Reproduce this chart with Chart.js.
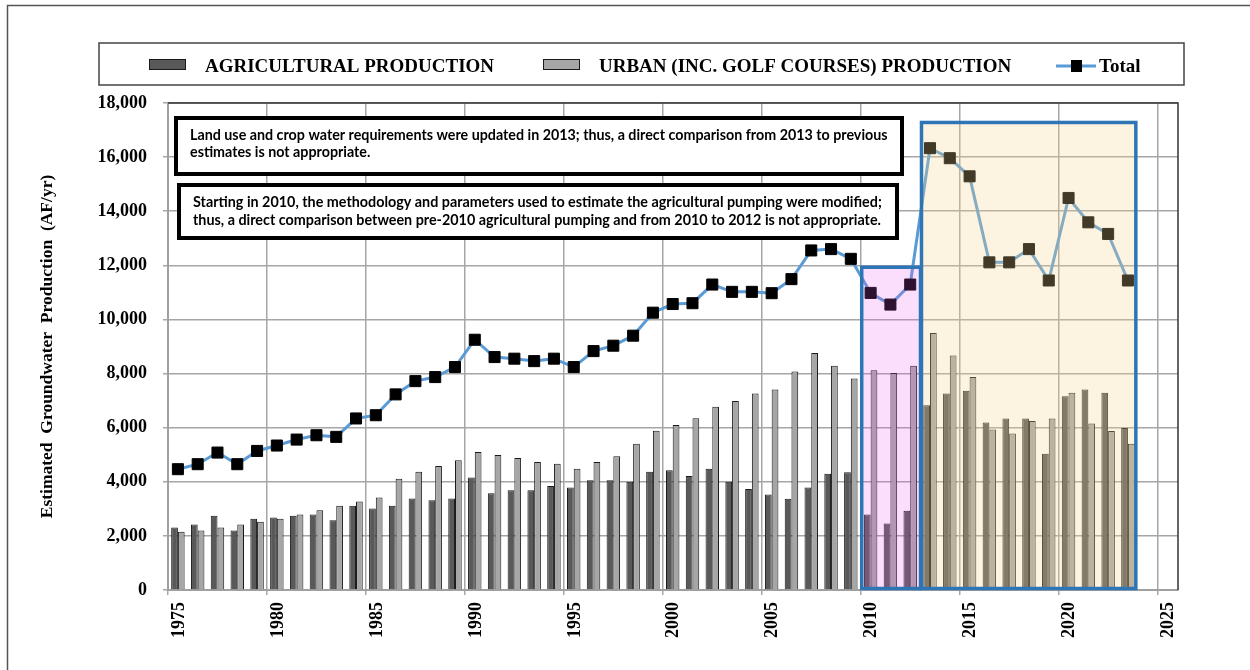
<!DOCTYPE html>
<html>
<head>
<meta charset="utf-8">
<script src="https://cdn.jsdelivr.net/npm/chart.js"></script>
<style>
	html, body { margin: 0; padding: 0; background: #fff; }
	#wrap { width: 1250px; height: 670px; }
</style>
</head>
<body>
<div id="wrap"><canvas id="myChart" width="1250" height="670"></canvas></div>
<script>
//setup
const years = [
	1975, 1976, 1977, 1978, 1979, 1980, 1981, 1982, 1983, 1984,
	1985, 1986, 1987, 1988, 1989, 1990, 1991, 1992, 1993, 1994,
	1995, 1996, 1997, 1998, 1999, 2000, 2001, 2002, 2003, 2004,
	2005, 2006, 2007, 2008, 2009, 2010, 2011, 2012, 2013, 2014,
	2015, 2016, 2017, 2018, 2019, 2020, 2021, 2022, 2023,
];
const agricultural = [
	2310, 2420, 2740, 2200, 2630, 2680, 2740, 2790, 2580, 3110,
	3010, 3110, 3380, 3320, 3380, 4160, 3580, 3690, 3690, 3840,
	3790, 4060, 4060, 4000, 4370, 4430, 4210, 4480, 4000, 3730,
	3530, 3370, 3790, 4300, 4350, 2790, 2460, 2930, 6830, 7260,
	7360, 6190, 6340, 6340, 5040, 7160, 7410, 7290, 5990,
];
const urban = [
	2150, 2200, 2310, 2420, 2520, 2630, 2790, 2950, 3110, 3270,
	3420, 4110, 4370, 4580, 4800, 5100, 4990, 4880, 4730, 4670,
	4480, 4730, 4940, 5410, 5890, 6100, 6350, 6770, 6990, 7260,
	7410, 8080, 8760, 8290, 7820, 8120, 8020, 8290, 9500, 8670,
	7870, 5930, 5780, 6250, 6340, 7290, 6150, 5880, 5410,
];
const total = [
	4465, 4650, 5080, 4650, 5140, 5340, 5560, 5720, 5660, 6340,
	6460, 7230, 7720, 7870, 8240, 9250, 8610, 8550, 8460, 8550,
	8240, 8830, 9030, 9400, 10250, 10570, 10600, 11290, 11020, 11020,
	10970, 11490, 12550, 12600, 12240, 10980, 10550, 11290, 16330, 15960,
	15290, 12110, 12110, 12600, 11440, 14490, 13590, 13160, 11440,
];
const xTickLabels = [1975, 1980, 1985, 1990, 1995, 2000, 2005, 2010, 2015, 2020, 2025];
const yTickLabels = [0, 2000, 4000, 6000, 8000, 10000, 12000, 14000, 16000, 18000];

const seriesNames = [
	"AGRICULTURAL PRODUCTION",
	"URBAN (INC. GOLF COURSES) PRODUCTION",
	"Total",
];
const notes = [
	[
		"Land use and crop water requirements were updated in 2013; thus, a direct comparison from 2013 to previous",
		"estimates is not appropriate.",
	],
	[
		"Starting in 2010, the methodology and parameters used to estimate the agricultural pumping were modified;",
		"thus, a direct comparison between pre-2010 agricultural pumping and from 2010 to 2012 is not appropriate.",
	],
];

//highlighted periods (data units)
const periods = [
	{ from: 2010.05, to: 2013.02, top: 11930, fill: "rgba(235, 90, 235, 0.2)" },
	{ from: 2013.07, to: 2023.9, top: 17280, fill: "rgba(245, 215, 140, 0.27)" },
];

const serif = "'Liberation Serif', 'Times New Roman', serif";
const midYear = (arr) => arr.map((v, i) => ({ x: years[i] + 0.5, y: v }));

const data = {
	datasets: [
		{
			type: "line",
			label: seriesNames[2],
			data: midYear(total),
			borderColor: "#5b9bd5",
			borderWidth: 3,
			pointStyle: "rect",
			pointRadius: 7.8,
			pointBackgroundColor: "#000",
			pointBorderColor: "#000",
			pointBorderWidth: 1,
			tension: 0,
			order: 0,
		},
		{
			type: "bar",
			label: seriesNames[0],
			data: midYear(agricultural),
			backgroundColor: "#595959",
			borderColor: "#1a1a1a",
			borderWidth: 1,
			categoryPercentage: 0.68,
			barPercentage: 1,
			order: 1,
		},
		{
			type: "bar",
			label: seriesNames[1],
			data: midYear(urban),
			backgroundColor: "#a6a6a6",
			borderColor: "#1a1a1a",
			borderWidth: 1,
			categoryPercentage: 0.68,
			barPercentage: 1,
			order: 1,
		},
	],
};

//white page + outer frame
const page = {
	id: "page",
	beforeDraw(chart) {
		const { ctx, width, height } = chart;
		ctx.save();
		ctx.fillStyle = "#fff";
		ctx.fillRect(0, 0, width, height);
		ctx.strokeStyle = "#555";
		ctx.lineWidth = 1.5;
		ctx.beginPath();
		ctx.moveTo(7.5, height);
		ctx.lineTo(7.5, 5.5);
		ctx.lineTo(width, 5.5);
		ctx.stroke();
		ctx.restore();
	},
};

//shaded periods + plot frame
const periodBoxes = {
	id: "periodBoxes",
	afterDatasetsDraw(chart) {
		const {
			ctx,
			chartArea: { top, right, bottom, left },
			scales: { x, y },
		} = chart;
		ctx.save();
		periods.forEach((p) => {
			const x0 = x.getPixelForValue(p.from);
			const x1 = x.getPixelForValue(p.to);
			const y0 = y.getPixelForValue(p.top);
			const y1 = y.getPixelForValue(0) - 1.5;
			ctx.fillStyle = p.fill;
			ctx.fillRect(x0, y0, x1 - x0, y1 - y0);
			ctx.strokeStyle = "#2e75b6";
			ctx.lineWidth = 3.5;
			ctx.strokeRect(x0, y0, x1 - x0, y1 - y0);
		});
		//dark top / right border of the plot
		ctx.strokeStyle = "#333";
		ctx.lineWidth = 1.5;
		ctx.beginPath();
		ctx.moveTo(left, top);
		ctx.lineTo(right, top);
		ctx.lineTo(right, bottom);
		ctx.stroke();
		ctx.restore();
	},
};

//note boxes + legend
function fitFont(ctx, text, width, weight, family) {
	ctx.font = weight + " 20px " + family;
	const size = (20 * width) / ctx.measureText(text).width;
	return weight + " " + size.toFixed(2) + "px " + family;
}

const overlay = {
	id: "overlay",
	afterDraw(chart) {
		const { ctx } = chart;
		ctx.save();

		//note boxes
		const boxes = [
			{ l: 176, t: 118, r: 902, b: 174, tx: 190, lines: [140, 157], fitW: 698 },
			{ l: 179, t: 185, r: 897, b: 238, tx: 193, lines: [207, 225], fitW: 689 },
		];
		boxes.forEach((b, i) => {
			ctx.fillStyle = "#fff";
			ctx.fillRect(b.l, b.t, b.r - b.l, b.b - b.t);
			ctx.strokeStyle = "#000";
			ctx.lineWidth = 4;
			ctx.strokeRect(b.l, b.t, b.r - b.l, b.b - b.t);
			ctx.font = fitFont(ctx, notes[i][0], b.fitW, "bold", "Lato, 'Liberation Sans', sans-serif");
			ctx.fillStyle = "#000";
			ctx.textAlign = "left";
			ctx.textBaseline = "alphabetic";
			notes[i].forEach((line, j) => ctx.fillText(line, b.tx, b.lines[j]));
		});

		//legend
		ctx.fillStyle = "#fff";
		ctx.fillRect(99, 43, 1085, 42);
		ctx.strokeStyle = "#444";
		ctx.lineWidth = 1.5;
		ctx.strokeRect(99, 43, 1085, 42);

		ctx.lineWidth = 1;
		ctx.strokeStyle = "#1a1a1a";
		ctx.fillStyle = data.datasets[1].backgroundColor;
		ctx.fillRect(149, 59, 36, 10);
		ctx.strokeRect(149.5, 59.5, 36, 10);
		ctx.fillStyle = data.datasets[2].backgroundColor;
		ctx.fillRect(543, 59, 36, 10);
		ctx.strokeRect(543.5, 59.5, 36, 10);

		ctx.strokeStyle = data.datasets[0].borderColor;
		ctx.lineWidth = 3;
		ctx.beginPath();
		ctx.moveTo(1056, 66);
		ctx.lineTo(1096, 66);
		ctx.stroke();
		ctx.fillStyle = "#000";
		ctx.fillRect(1071, 60, 11, 12);

		ctx.font = "bold 19px " + serif;
		ctx.fillStyle = "#000";
		ctx.textBaseline = "alphabetic";
		ctx.fillText(seriesNames[0], 205, 72);
		ctx.fillText(seriesNames[1], 599, 72);
		ctx.fillText(seriesNames[2], 1099, 72);

		ctx.restore();
	},
};

//config
const config = {
	data,
	options: {
		responsive: false,
		animation: false,
		layout: {
			padding: { top: 103, right: 72, bottom: 0, left: 0 },
		},
		scales: {
			x: {
				type: "linear",
				offset: false,
				min: xTickLabels[0],
				max: 2026.03,
				afterBuildTicks(scale) {
					scale.ticks = xTickLabels.map((v) => ({ value: v }));
				},
				afterFit(scale) {
					scale.height = 80;
				},
				ticks: {
					minRotation: 90,
					maxRotation: 90,
					padding: 7,
					labelOffset: 11,
					color: "#000",
					font: { family: serif, size: 18, weight: "bold" },
					callback: (v) => String(v),
				},
				grid: {
					offset: false,
					color: "#a6a6a6",
					lineWidth: 1.5,
					tickLength: 5,
				},
				border: { color: "#a0a0a0", width: 2 },
			},
			y: {
				min: yTickLabels[0],
				max: yTickLabels[yTickLabels.length - 1],
				afterBuildTicks(scale) {
					scale.ticks = yTickLabels.map((v) => ({ value: v }));
				},
				afterFit(scale) {
					scale.width = 168;
				},
				ticks: {
					padding: 16,
					color: "#000",
					font: { family: serif, size: 18, weight: "bold" },
					callback: (v) => v.toLocaleString("en-US"),
				},
				grid: {
					color: "#a6a6a6",
					lineWidth: 1.5,
					tickLength: 5,
				},
				border: { color: "#a0a0a0", width: 2 },
				title: {
					display: true,
					text: "Estimated  Groundwater  Production  (AF/yr)",
					color: "#000",
					font: { family: serif, size: 17.5, weight: "bold" },
					padding: { top: 37, bottom: 0 },
				},
			},
		},
		plugins: {
			legend: { display: false },
			tooltip: { enabled: false },
		},
	},
	plugins: [page, periodBoxes, overlay],
};

//render init
const myChart = new Chart(document.getElementById("myChart"), config);
</script>
</body>
</html>
